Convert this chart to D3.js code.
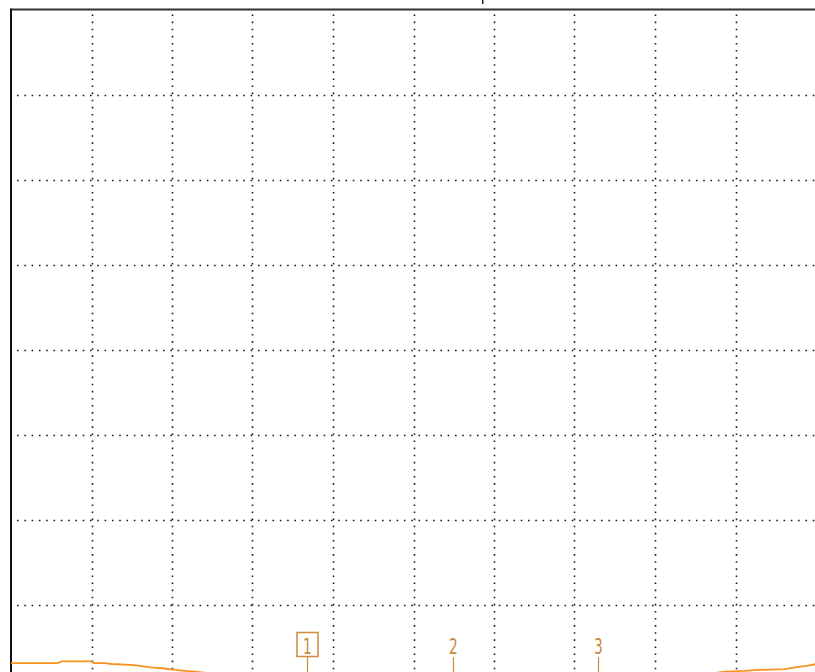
<!DOCTYPE html>
<html>
<head>
<meta charset="utf-8">
<script src="https://cdn.jsdelivr.net/npm/d3@7"></script>
<style>
  body { margin: 0; background: #fff; }
  svg { display: block; }
</style>
</head>
<body>
<div id="chart"></div>
<script>
var svgWidth = 815;
var svgHeight = 672;

// horizontal axis in divisions (0..10), vertical in dB (0 .. -80, 10 dB/div)
var xDivs = d3.range(0, 11);
var yLevels = d3.range(0, -81, -10);

// trace (div, dB)
var traceX = [0, 0.58, 0.63, 1.0, 1.03, 1.17, 1.25, 1.48, 1.58, 1.73, 1.88, 2.04, 2.16, 2.29, 2.47, 2.8, 3.5, 4.5, 5.5, 6.5, 7.5, 8.3, 8.87, 9.12, 9.27, 9.61, 9.74, 9.9, 10.0];
var traceY = [-76.9, -76.9, -76.7, -76.7, -76.9, -76.9, -77.0, -77.1, -77.2, -77.4, -77.5, -77.7, -77.8, -77.9, -78.1, -78.6, -79.2, -79.6, -79.7, -79.6, -79.2, -78.6, -77.9, -77.8, -77.7, -77.6, -77.4, -77.2, -77.0];

// markers
var markerNames = ["1", "2", "3"];
var markerX = [3.68, 5.49, 7.29];
var markerActive = [true, false, false];

var x = d3.scaleLinear().domain([0, 10]).range([11, 816]);
var y = d3.scaleLinear().domain([0, -80]).range([9.5, 689.5]);

var svg = d3.select("#chart")
    .append("svg")
    .attr("width", svgWidth)
    .attr("height", svgHeight);

var grid = svg.append("g");

// dotted graticule
grid.selectAll("line.v")
    .data(xDivs.slice(1, -1))
    .enter()
    .append("line")
    .attr("class", "v")
    .attr("x1", d => Math.round(x(d)) + 0.5)
    .attr("x2", d => Math.round(x(d)) + 0.5)
    .attr("y1", y(0) + 5)
    .attr("y2", y(-80))
    .attr("stroke", "#1a1a1a")
    .attr("stroke-width", 1.6)
    .attr("stroke-dasharray", "1.6 5.5");

grid.selectAll("line.h")
    .data(yLevels.slice(1, -1))
    .enter()
    .append("line")
    .attr("class", "h")
    .attr("x1", x(0) + 6)
    .attr("x2", x(10))
    .attr("y1", d => Math.round(y(d)) + 0.5)
    .attr("y2", d => Math.round(y(d)) + 0.5)
    .attr("stroke", "#1a1a1a")
    .attr("stroke-width", 1.6)
    .attr("stroke-dasharray", "1.6 5.7");

// frame
svg.append("line")
    .attr("x1", x(0)).attr("x2", x(10) + 5)
    .attr("y1", y(0)).attr("y2", y(0))
    .attr("stroke", "#333").attr("stroke-width", 2);

svg.append("line")
    .attr("x1", x(0)).attr("x2", x(0))
    .attr("y1", y(0) - 1).attr("y2", y(-80))
    .attr("stroke", "#111").attr("stroke-width", 2);

// reference tick above the frame
svg.append("line")
    .attr("x1", x(5.86)).attr("x2", x(5.86))
    .attr("y1", 0).attr("y2", 4)
    .attr("stroke", "#222").attr("stroke-width", 1.5);

// trace
var traceData = traceX.map((d, i) => ({ x: d, y: traceY[i] }));

svg.append("path")
    .datum(traceData)
    .attr("fill", "none")
    .attr("stroke", "#f7921e")
    .attr("stroke-width", 1.8)
    .attr("d", d3.line().x(d => x(d.x)).y(d => y(d.y)));

// markers
var mk = svg.append("g")
    .selectAll("g")
    .data(markerNames)
    .enter()
    .append("g")
    .attr("transform", (d, i) => `translate(${Math.round(x(markerX[i])) + 0.5}, 0)`);

mk.append("line")
    .attr("x1", 0).attr("x2", 0)
    .attr("y1", 657).attr("y2", svgHeight + 5)
    .attr("stroke", "#c98a3c")
    .attr("stroke-width", 1.2);

mk.filter((d, i) => markerActive[i])
    .append("rect")
    .attr("x", -10.5)
    .attr("y", 632.5)
    .attr("width", 21)
    .attr("height", 24)
    .attr("fill", "#fff")
    .attr("stroke", "#d08b3c")
    .attr("stroke-width", 1.5);

mk.append("text")
    .attr("transform", "translate(0, 654) scale(0.85, 1.2)")
    .attr("text-anchor", "middle")
    .attr("font-family", "Liberation Sans Narrow, DejaVu Sans Condensed, sans-serif")
    .attr("font-size", 18)
    .attr("font-weight", 300)
    .attr("fill", "#c98a3c")
    .text(d => d);
</script>
</body>
</html>
